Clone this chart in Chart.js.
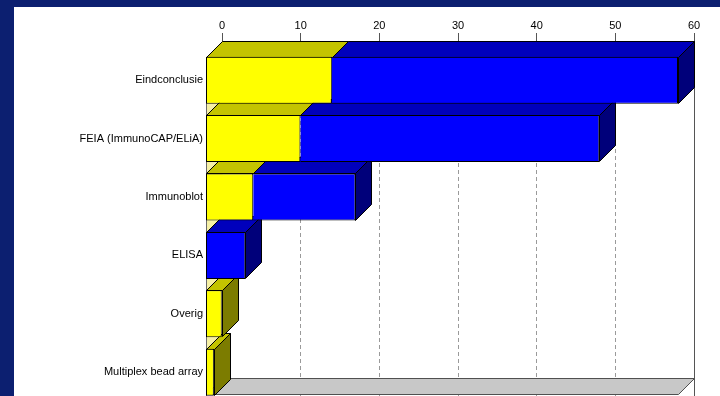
<!DOCTYPE html>
<html>
<head>
<meta charset="utf-8">
<script src="https://cdn.jsdelivr.net/npm/chart.js@4"></script>
<style>
  html, body { margin: 0; padding: 0; }
  body { width: 720px; height: 396px; background: #0c1f70; overflow: hidden; position: relative; }
  #panel { position: absolute; left: 14px; top: 7px; right: 0; bottom: 0; background: #fff; }
  #wrap { position: absolute; left: 0; top: 0; width: 720px; height: 411px; }
</style>
</head>
<body>
<div id="panel"></div>
<div id="wrap"><canvas id="chart" width="720" height="411"></canvas></div>
<script>
const categories = ['Eindconclusie', 'FEIA (ImmunoCAP/ELiA)', 'Immunoblot', 'ELISA', 'Overig', 'Multiplex bead array'];
const yellowValues = [16, 12, 6, 0, 2, 1];
const blueValues = [44, 38, 13, 5, 0, 0];
const tickValues = [0, 10, 20, 30, 40, 50, 60];
const axisMax = 60;

// fake 3D: the back wall sits DEPTH px up and to the right of the front faces
const DEPTH = 16;
const PLOT_LEFT = 206;
const PLOT_TOP = 51;
const PAD_RIGHT = 26;
const plotWidth = 720 - PLOT_LEFT - PAD_RIGHT;
const backShift = axisMax * DEPTH / (plotWidth - DEPTH);

const faceColors = [
  { top: '#c4c400', side: '#7c7c00' },
  { top: '#0000bc', side: '#00007a' }
];

const snap = v => Math.round(v) + 0.5;

function poly(ctx, pts, fill, stroke) {
  ctx.beginPath();
  ctx.moveTo(pts[0][0], pts[0][1]);
  for (let i = 1; i < pts.length; i++) ctx.lineTo(pts[i][0], pts[i][1]);
  ctx.closePath();
  if (fill) { ctx.fillStyle = fill; ctx.fill(); }
  if (stroke) { ctx.strokeStyle = stroke; ctx.lineWidth = 1; ctx.stroke(); }
}

const bars3d = {
  id: 'bars3d',
  beforeDatasetsDraw(chart) {
    const { ctx, chartArea, scales } = chart;
    const metas = [chart.getDatasetMeta(0), chart.getDatasetMeta(1)];
    const x0 = snap(scales.x.getPixelForValue(0));
    const xEnd = snap(scales.x.getPixelForValue(axisMax));
    const first = metas[0].data[0].getProps(['y', 'height'], true);
    const wallTop = snap(first.y - first.height / 2);
    const floorFront = snap(chartArea.bottom - 7);
    const floorBack = floorFront - DEPTH;

    ctx.save();
    // floor
    poly(ctx, [[x0, floorFront], [x0 + DEPTH, floorBack], [xEnd + DEPTH, floorBack], [xEnd, floorFront]], '#c8c8c8', '#505050');
    // left wall, only seen in the gaps between bars
    poly(ctx, [[x0, wallTop], [x0 + DEPTH, wallTop - DEPTH], [x0 + DEPTH, floorBack], [x0, floorFront]], '#f6f0a6', null);
    ctx.strokeStyle = '#6a6a6a';
    ctx.beginPath();
    ctx.moveTo(x0, wallTop);
    ctx.lineTo(x0, chartArea.bottom);
    ctx.stroke();

    // top and end faces, drawn bottom row first so the rows above cover them
    for (let i = categories.length - 1; i >= 0; i--) {
      let last = null;
      metas.forEach((meta, d) => {
        const el = meta.data[i];
        const p = el.getProps(['x', 'y', 'base', 'height'], true);
        if (Math.abs(p.x - p.base) < 0.5) return;
        const xs = snap(Math.min(p.x, p.base));
        const xe = snap(Math.max(p.x, p.base));
        const top = snap(p.y - p.height / 2);
        const bottom = snap(p.y + p.height / 2) - 1;
        poly(ctx, [[xs, top], [xs + DEPTH, top - DEPTH], [xe + DEPTH, top - DEPTH], [xe, top]], faceColors[d].top, '#000');
        last = { xe, top, bottom, color: faceColors[d].side };
      });
      if (last) {
        const { xe, top, bottom, color } = last;
        poly(ctx, [[xe, top], [xe + DEPTH, top - DEPTH], [xe + DEPTH, bottom - DEPTH], [xe, bottom]], color, '#000');
      }
    }
    ctx.restore();
  }
};

const labelFont = { family: "'Liberation Sans', 'DejaVu Sans', sans-serif", size: 11 };

new Chart(document.getElementById('chart'), {
  type: 'bar',
  data: {
    labels: categories,
    datasets: [
      {
        label: 'Reeks 1',
        data: yellowValues,
        backgroundColor: '#ffff00',
        borderColor: '#000000',
        borderWidth: 1,
        borderSkipped: false,
        xAxisID: 'x'
      },
      {
        label: 'Reeks 2',
        data: blueValues,
        backgroundColor: '#0000ff',
        borderColor: '#000000',
        borderWidth: 1,
        borderSkipped: ctx => yellowValues[ctx.dataIndex] > 0 ? 'start' : false,
        xAxisID: 'x'
      }
    ]
  },
  options: {
    indexAxis: 'y',
    responsive: false,
    animation: false,
    categoryPercentage: 0.805,
    barPercentage: 1,
    layout: { padding: { left: 0, right: PAD_RIGHT, top: 0, bottom: 0 } },
    plugins: {
      legend: { display: false },
      tooltip: { enabled: false }
    },
    scales: {
      x: {
        type: 'linear',
        display: false,
        stacked: true,
        min: 0,
        max: axisMax + backShift
      },
      xBack: {
        type: 'linear',
        position: 'top',
        min: -backShift,
        max: axisMax,
        afterBuildTicks: axis => { axis.ticks = tickValues.map(v => ({ value: v })); },
        afterFit: scale => { scale.height = PLOT_TOP; },
        ticks: {
          font: labelFont,
          color: '#000000',
          padding: 0,
          maxRotation: 0,
          autoSkip: false
        },
        grid: {
          color: ctx => {
            const v = ctx.tick ? ctx.tick.value : null;
            if (v === 0) return 'rgba(0,0,0,0)';
            return v === axisMax ? '#555555' : '#9a9a9a';
          },
          lineWidth: 1,
          tickLength: 18,
          tickColor: '#555555',
          tickBorderDash: []
        },
        border: {
          display: false,
          dash: ctx => (ctx.tick && ctx.tick.value === axisMax) ? [] : [4, 3]
        }
      },
      y: {
        stacked: true,
        afterFit: scale => { scale.width = PLOT_LEFT; },
        ticks: {
          font: labelFont,
          color: '#000000',
          padding: 3
        },
        grid: { display: false, drawTicks: false },
        border: { display: false }
      }
    }
  },
  plugins: [bars3d]
});
</script>
</body>
</html>
